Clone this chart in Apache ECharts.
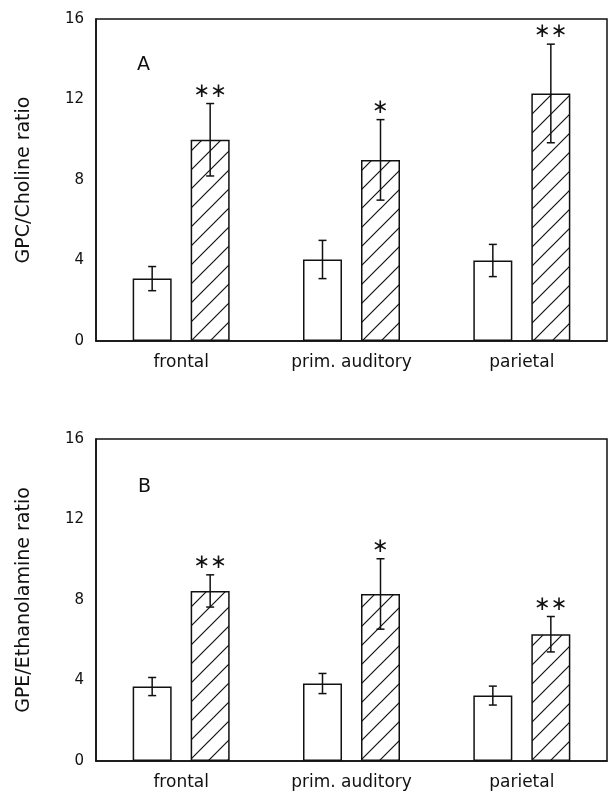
<!DOCTYPE html>
<html>
<head>
<meta charset="utf-8">
<script src="https://cdn.jsdelivr.net/npm/echarts@6/dist/echarts.min.js"></script>
<style>
html, body { margin: 0; background: #fff; }
#chart { width: 608px; height: 795px; }
</style>
</head>
<body>
<div id="chart"></div>
<script>
var categories = ['frontal', 'prim. auditory', 'parietal'];
var yTicks = [0, 4, 8, 12, 16];

// panel A: GPC/Choline ratio
var gpcControl = [3.1, 4.05, 4.0];
var gpcControlErr = [0.6, 0.95, 0.8];
var gpcTreated = [10.0, 9.0, 12.3];
var gpcTreatedErr = [1.8, 2.0, 2.45];
var gpcStars = ['∗∗', '∗', '∗∗'];

// panel B: GPE/Ethanolamine ratio
var gpeControl = [3.7, 3.85, 3.25];
var gpeControlErr = [0.45, 0.5, 0.47];
var gpeTreated = [8.45, 8.3, 6.3];
var gpeTreatedErr = [0.8, 1.75, 0.88];
var gpeStars = ['∗∗', '∗', '∗∗'];

var INK = '#111';
var FONT = 'DejaVu Sans';
var BAR_W = 39, GAP = 19, CAP = 4;
var OFFSET = (BAR_W + GAP) / 2;

// diagonal hatch tile for the treated bars
function makeHatch() {
    var s = 19;
    var c = document.createElement('canvas');
    c.width = s; c.height = s;
    var ctx = c.getContext('2d');
    ctx.strokeStyle = INK;
    ctx.lineWidth = 1.2;
    ctx.beginPath();
    ctx.moveTo(-2, s + 2); ctx.lineTo(s + 2, -2);
    ctx.moveTo(-2, 2); ctx.lineTo(2, -2);
    ctx.moveTo(s - 2, s + 2); ctx.lineTo(s + 2, s - 2);
    ctx.stroke();
    return c;
}
var hatch = makeHatch();

function errorBars(ai, vals, errs, side, stars) {
    return {
        type: 'custom',
        xAxisIndex: ai,
        yAxisIndex: ai,
        z: 5,
        silent: true,
        data: vals.map(function (v, i) { return [i, v, errs[i]]; }),
        renderItem: function (params, api) {
            var i = api.value(0), v = api.value(1), e = api.value(2);
            var hi = api.coord([i, v + e]);
            var lo = api.coord([i, v - e]);
            var x = hi[0] + side * OFFSET;
            var st = { stroke: INK, lineWidth: 1.5 };
            var kids = [
                { type: 'line', shape: { x1: x, y1: hi[1], x2: x, y2: lo[1] }, style: st },
                { type: 'line', shape: { x1: x - CAP, y1: hi[1], x2: x + CAP, y2: hi[1] }, style: st },
                { type: 'line', shape: { x1: x - CAP, y1: lo[1], x2: x + CAP, y2: lo[1] }, style: st }
            ];
            if (stars) {
                kids.push({
                    type: 'text',
                    x: x, y: hi[1] - 12,
                    style: {
                        text: stars[params.dataIndex],
                        fill: INK,
                        font: '20px "' + FONT + '"',
                        align: 'center',
                        verticalAlign: 'middle'
                    }
                });
            }
            return { type: 'group', children: kids };
        }
    };
}

function xAxis(gi) {
    return {
        type: 'category',
        gridIndex: gi,
        data: categories,
        axisLine: { lineStyle: { color: INK, width: 1.5 } },
        axisTick: { show: false },
        axisLabel: { color: INK, fontFamily: FONT, fontSize: 17, margin: 13 }
    };
}

function yAxis(gi, name) {
    return {
        type: 'value',
        gridIndex: gi,
        min: yTicks[0],
        max: yTicks[yTicks.length - 1],
        interval: yTicks[1] - yTicks[0],
        name: name,
        nameLocation: 'middle',
        nameRotate: 90,
        nameGap: 62,
        nameTextStyle: { color: INK, fontFamily: FONT, fontSize: 19 },
        axisLine: { show: true, lineStyle: { color: INK, width: 1.5 } },
        axisTick: { show: false },
        splitLine: { show: false },
        axisLabel: { color: INK, fontFamily: FONT, fontSize: 15, margin: 12 }
    };
}

function bars(ai, vals, hatched) {
    return {
        type: 'bar',
        xAxisIndex: ai,
        yAxisIndex: ai,
        data: vals,
        barWidth: BAR_W,
        barGap: (GAP / BAR_W * 100) + '%',
        silent: true,
        itemStyle: {
            color: hatched ? { image: hatch, repeat: 'repeat' } : '#fff',
            borderColor: INK,
            borderWidth: 1.5
        }
    };
}

var myChart = echarts.init(document.getElementById('chart'));
var option = {
    backgroundColor: '#fff',
    animation: false,
    grid: [
        { left: 96, top: 19, right: 1, height: 322, show: true, borderColor: INK, borderWidth: 1.5, backgroundColor: 'transparent' },
        { left: 96, top: 439, right: 1, height: 322, show: true, borderColor: INK, borderWidth: 1.5, backgroundColor: 'transparent' }
    ],
    xAxis: [xAxis(0), xAxis(1)],
    yAxis: [yAxis(0, 'GPC/Choline ratio'), yAxis(1, 'GPE/Ethanolamine ratio')],
    graphic: [
        { type: 'text', left: 137, top: 56, style: { text: 'A', fill: INK, font: '19px "' + FONT + '"' } },
        { type: 'text', left: 138, top: 478, style: { text: 'B', fill: INK, font: '19px "' + FONT + '"' } }
    ],
    series: [
        bars(0, gpcControl, false),
        bars(0, gpcTreated, true),
        errorBars(0, gpcControl, gpcControlErr, -1, null),
        errorBars(0, gpcTreated, gpcTreatedErr, 1, gpcStars),
        bars(1, gpeControl, false),
        bars(1, gpeTreated, true),
        errorBars(1, gpeControl, gpeControlErr, -1, null),
        errorBars(1, gpeTreated, gpeTreatedErr, 1, gpeStars)
    ]
};
myChart.setOption(option);
</script>
</body>
</html>
